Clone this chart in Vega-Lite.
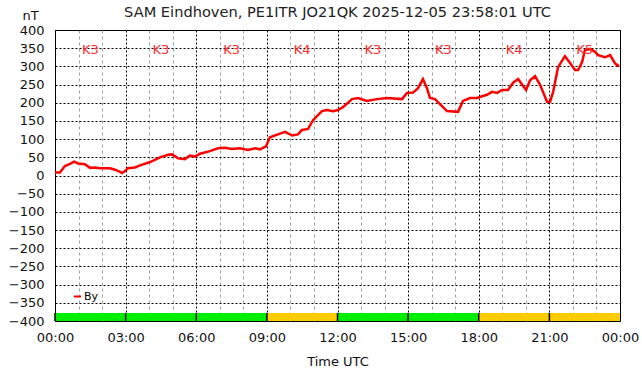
{
  "$schema": "https://vega.github.io/schema/vega-lite/v6.json",
  "width": 565,
  "height": 291,
  "autosize": "none",
  "padding": {"left": 55, "top": 30, "right": 22, "bottom": 55},
  "background": "white",
  "config": {
    "font": "DejaVu Sans",
    "view": {"stroke": "black", "strokeWidth": 1},
    "axisX": {
      "ticks": false,
      "domain": false,
      "labelFontSize": 13,
      "labelColor": "#111111",
      "labelPadding": 10,
      "labelFlush": false,
      "labelOverlap": false,
      "grid": true,
      "gridOpacity": 1,
      "gridWidth": 1,
      "titleFontSize": 13,
      "titleFontWeight": "normal",
      "titleColor": "#111111",
      "titlePadding": 11
    },
    "axisY": {
      "ticks": false,
      "domain": false,
      "labelFontSize": 13,
      "labelColor": "#111111",
      "labelPadding": 11,
      "labelOverlap": false,
      "grid": true,
      "gridColor": "#000000",
      "gridDash": [2, 2],
      "gridOpacity": 1,
      "titleAngle": 0,
      "titleAlign": "left",
      "titleBaseline": "alphabetic",
      "titleX": -33,
      "titleY": -11,
      "titleFontSize": 13,
      "titleFontWeight": "normal",
      "titleColor": "#111111"
    }
  },
  "title": {
    "text": "SAM Eindhoven, PE1ITR JO21QK 2025-12-05 23:58:01 UTC",
    "fontSize": 14.6,
    "fontWeight": "normal",
    "color": "#222222",
    "anchor": "middle",
    "offset": 9,
    "dy": 20
  },
  "datasets": {
    "by": [
      {"t": 0.00, "v": 8, "series": "By"},
      {"t": 0.21, "v": 8, "series": "By"},
      {"t": 0.42, "v": 26, "series": "By"},
      {"t": 0.64, "v": 32, "series": "By"},
      {"t": 0.81, "v": 38, "series": "By"},
      {"t": 0.98, "v": 33, "series": "By"},
      {"t": 1.27, "v": 31, "series": "By"},
      {"t": 1.49, "v": 21, "series": "By"},
      {"t": 1.70, "v": 22, "series": "By"},
      {"t": 1.91, "v": 20, "series": "By"},
      {"t": 2.34, "v": 20, "series": "By"},
      {"t": 2.55, "v": 16, "series": "By"},
      {"t": 2.76, "v": 10, "series": "By"},
      {"t": 2.85, "v": 7, "series": "By"},
      {"t": 2.97, "v": 12, "series": "By"},
      {"t": 3.10, "v": 20, "series": "By"},
      {"t": 3.40, "v": 22, "series": "By"},
      {"t": 3.61, "v": 28, "series": "By"},
      {"t": 4.04, "v": 37, "series": "By"},
      {"t": 4.46, "v": 50, "series": "By"},
      {"t": 4.80, "v": 57, "series": "By"},
      {"t": 4.97, "v": 58, "series": "By"},
      {"t": 5.23, "v": 47, "series": "By"},
      {"t": 5.52, "v": 45, "series": "By"},
      {"t": 5.73, "v": 55, "series": "By"},
      {"t": 5.95, "v": 52, "series": "By"},
      {"t": 6.16, "v": 60, "series": "By"},
      {"t": 6.58, "v": 67, "series": "By"},
      {"t": 6.92, "v": 75, "series": "By"},
      {"t": 7.22, "v": 76, "series": "By"},
      {"t": 7.52, "v": 73, "series": "By"},
      {"t": 7.86, "v": 75, "series": "By"},
      {"t": 8.20, "v": 70, "series": "By"},
      {"t": 8.50, "v": 75, "series": "By"},
      {"t": 8.71, "v": 72, "series": "By"},
      {"t": 8.96, "v": 80, "series": "By"},
      {"t": 9.13, "v": 105, "series": "By"},
      {"t": 9.56, "v": 115, "series": "By"},
      {"t": 9.77, "v": 120, "series": "By"},
      {"t": 10.07, "v": 110, "series": "By"},
      {"t": 10.32, "v": 113, "series": "By"},
      {"t": 10.49, "v": 125, "series": "By"},
      {"t": 10.75, "v": 128, "series": "By"},
      {"t": 10.96, "v": 152, "series": "By"},
      {"t": 11.34, "v": 177, "series": "By"},
      {"t": 11.55, "v": 180, "series": "By"},
      {"t": 11.81, "v": 177, "series": "By"},
      {"t": 12.02, "v": 180, "series": "By"},
      {"t": 12.23, "v": 188, "series": "By"},
      {"t": 12.62, "v": 210, "series": "By"},
      {"t": 12.87, "v": 213, "series": "By"},
      {"t": 13.25, "v": 205, "series": "By"},
      {"t": 13.68, "v": 210, "series": "By"},
      {"t": 14.10, "v": 213, "series": "By"},
      {"t": 14.74, "v": 210, "series": "By"},
      {"t": 14.95, "v": 227, "series": "By"},
      {"t": 15.21, "v": 228, "series": "By"},
      {"t": 15.42, "v": 240, "series": "By"},
      {"t": 15.63, "v": 265, "series": "By"},
      {"t": 15.80, "v": 240, "series": "By"},
      {"t": 15.93, "v": 213, "series": "By"},
      {"t": 16.14, "v": 210, "series": "By"},
      {"t": 16.65, "v": 177, "series": "By"},
      {"t": 17.12, "v": 175, "series": "By"},
      {"t": 17.33, "v": 205, "series": "By"},
      {"t": 17.63, "v": 213, "series": "By"},
      {"t": 17.93, "v": 213, "series": "By"},
      {"t": 18.14, "v": 218, "series": "By"},
      {"t": 18.35, "v": 222, "series": "By"},
      {"t": 18.56, "v": 230, "series": "By"},
      {"t": 18.78, "v": 227, "series": "By"},
      {"t": 18.99, "v": 235, "series": "By"},
      {"t": 19.24, "v": 235, "series": "By"},
      {"t": 19.46, "v": 255, "series": "By"},
      {"t": 19.67, "v": 265, "series": "By"},
      {"t": 19.84, "v": 250, "series": "By"},
      {"t": 20.01, "v": 235, "series": "By"},
      {"t": 20.18, "v": 262, "series": "By"},
      {"t": 20.39, "v": 273, "series": "By"},
      {"t": 20.60, "v": 250, "series": "By"},
      {"t": 20.90, "v": 203, "series": "By"},
      {"t": 21.03, "v": 203, "series": "By"},
      {"t": 21.16, "v": 230, "series": "By"},
      {"t": 21.37, "v": 298, "series": "By"},
      {"t": 21.66, "v": 328, "series": "By"},
      {"t": 21.88, "v": 309, "series": "By"},
      {"t": 22.09, "v": 290, "series": "By"},
      {"t": 22.22, "v": 290, "series": "By"},
      {"t": 22.39, "v": 312, "series": "By"},
      {"t": 22.51, "v": 345, "series": "By"},
      {"t": 22.73, "v": 348, "series": "By"},
      {"t": 22.94, "v": 340, "series": "By"},
      {"t": 23.07, "v": 331, "series": "By"},
      {"t": 23.36, "v": 325, "series": "By"},
      {"t": 23.58, "v": 331, "series": "By"},
      {"t": 23.79, "v": 308, "series": "By"},
      {"t": 23.96, "v": 300, "series": "By"}
    ],
    "k": [
      {"start": 0, "end": 3, "mid": 1.5, "k": "K3"},
      {"start": 3, "end": 6, "mid": 4.5, "k": "K3"},
      {"start": 6, "end": 9, "mid": 7.5, "k": "K3"},
      {"start": 9, "end": 12, "mid": 10.5, "k": "K4"},
      {"start": 12, "end": 15, "mid": 13.5, "k": "K3"},
      {"start": 15, "end": 18, "mid": 16.5, "k": "K3"},
      {"start": 18, "end": 21, "mid": 19.5, "k": "K4"},
      {"start": 21, "end": 24, "mid": 22.5, "k": "K5"}
    ]
  },
  "layer": [
    {
      "data": {"name": "k"},
      "mark": {"type": "rect"},
      "encoding": {
        "x": {
          "field": "start",
          "type": "quantitative",
          "scale": {"domain": [0, 24], "nice": false, "zero": false},
          "axis": {
            "values": [0,1,2,3,4,5,6,7,8,9,10,11,12,13,14,15,16,17,18,19,20,21,22,23,24],
            "labelExpr": "datum.value % 3 === 0 ? utcFormat(datum.value * 3600000, '%H:%M') : ''",
            "labelOverlap": false,
            "gridColor": {"condition": {"test": "datum.value % 3 === 0", "value": "#000000"}, "value": "#a0a0a0"},
            "gridDash": {"condition": {"test": "datum.value % 3 === 0", "value": [2, 2]}, "value": [3, 3]},
            "title": "Time UTC"
          }
        },
        "x2": {"field": "end"},
        "y": {
          "datum": -400,
          "type": "quantitative",
          "scale": {"domain": [-400, 400], "nice": false, "zero": false},
          "axis": {
            "values": [-400,-350,-300,-250,-200,-150,-100,-50,0,50,100,150,200,250,300,350,400],
            "labelOverlap": false,
            "title": "nT"
          }
        },
        "y2": {"datum": -378},
        "fill": {
          "field": "k",
          "type": "nominal",
          "scale": {"domain": ["K3", "K4", "K5"], "range": ["#00ee00", "#ffcc00", "#ffcc00"]},
          "legend": null
        }
      }
    },
    {
      "data": {"name": "k"},
      "mark": {"type": "rule", "color": "black", "strokeWidth": 1.5},
      "encoding": {
        "x": {
          "field": "start",
          "type": "quantitative",
          "axis": {
            "values": [0,1,2,3,4,5,6,7,8,9,10,11,12,13,14,15,16,17,18,19,20,21,22,23,24],
            "labelExpr": "datum.value % 3 === 0 ? utcFormat(datum.value * 3600000, '%H:%M') : ''",
            "labelOverlap": false,
            "gridColor": {"condition": {"test": "datum.value % 3 === 0", "value": "#000000"}, "value": "#a0a0a0"},
            "gridDash": {"condition": {"test": "datum.value % 3 === 0", "value": [2, 2]}, "value": [3, 3]},
            "title": "Time UTC"
          }
        },
        "y": {
          "datum": -400,
          "type": "quantitative",
          "axis": {
            "values": [-400,-350,-300,-250,-200,-150,-100,-50,0,50,100,150,200,250,300,350,400],
            "labelOverlap": false,
            "title": "nT"
          }
        },
        "y2": {"datum": -378}
      }
    },
    {
      "data": {"name": "by"},
      "mark": {"type": "line", "strokeWidth": 2.5},
      "encoding": {
        "x": {
          "field": "t",
          "type": "quantitative",
          "axis": {
            "values": [0,1,2,3,4,5,6,7,8,9,10,11,12,13,14,15,16,17,18,19,20,21,22,23,24],
            "labelExpr": "datum.value % 3 === 0 ? utcFormat(datum.value * 3600000, '%H:%M') : ''",
            "labelOverlap": false,
            "gridColor": {"condition": {"test": "datum.value % 3 === 0", "value": "#000000"}, "value": "#a0a0a0"},
            "gridDash": {"condition": {"test": "datum.value % 3 === 0", "value": [2, 2]}, "value": [3, 3]},
            "title": "Time UTC"
          }
        },
        "y": {
          "field": "v",
          "type": "quantitative",
          "axis": {
            "values": [-400,-350,-300,-250,-200,-150,-100,-50,0,50,100,150,200,250,300,350,400],
            "labelOverlap": false,
            "title": "nT"
          }
        },
        "stroke": {
          "field": "series",
          "type": "nominal",
          "scale": {"domain": ["By"], "range": ["#ff0000"]},
          "legend": {
            "orient": "none",
            "legendX": 17,
            "legendY": 261,
            "title": null,
            "symbolType": "stroke",
            "symbolSize": 49,
            "symbolStrokeWidth": 2,
            "labelFontSize": 11,
            "labelOffset": 1,
            "padding": 0
          }
        }
      }
    },
    {
      "data": {"name": "k"},
      "mark": {"type": "text", "color": "#ff2a2a", "fontSize": 13, "baseline": "middle", "align": "center", "dy": 2},
      "encoding": {
        "x": {
          "field": "mid",
          "type": "quantitative",
          "axis": {
            "values": [0,1,2,3,4,5,6,7,8,9,10,11,12,13,14,15,16,17,18,19,20,21,22,23,24],
            "labelExpr": "datum.value % 3 === 0 ? utcFormat(datum.value * 3600000, '%H:%M') : ''",
            "labelOverlap": false,
            "gridColor": {"condition": {"test": "datum.value % 3 === 0", "value": "#000000"}, "value": "#a0a0a0"},
            "gridDash": {"condition": {"test": "datum.value % 3 === 0", "value": [2, 2]}, "value": [3, 3]},
            "title": "Time UTC"
          }
        },
        "y": {
          "datum": 350,
          "type": "quantitative",
          "axis": {
            "values": [-400,-350,-300,-250,-200,-150,-100,-50,0,50,100,150,200,250,300,350,400],
            "labelOverlap": false,
            "title": "nT"
          }
        },
        "text": {"field": "k"}
      }
    }
  ]
}
